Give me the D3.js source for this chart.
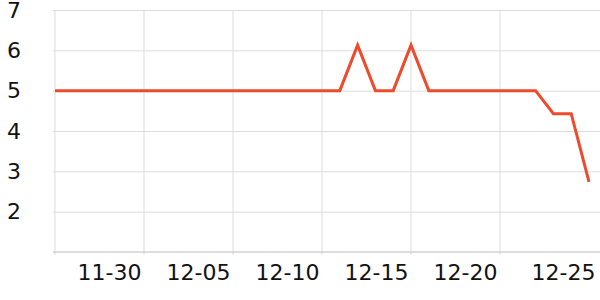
<!DOCTYPE html>
<html>
<head>
<meta charset="utf-8">
<script src="https://cdn.jsdelivr.net/npm/d3@7"></script>
<style>
  body { margin: 0; background: #fff; }
  text { font-family: "DejaVu Sans", sans-serif; }
</style>
</head>
<body>
<svg id="chart" width="600" height="300"></svg>
<script>
// daily categories shown on the x axis
var dates = ["11-25", "11-26", "11-27", "11-28", "11-29", "11-30", "12-01", "12-02",
  "12-03", "12-04", "12-05", "12-06", "12-07", "12-08", "12-09", "12-10", "12-11",
  "12-12", "12-13", "12-14", "12-15", "12-16", "12-17", "12-18", "12-19", "12-20",
  "12-21", "12-22", "12-23", "12-24", "12-25"];
var values = [5, 5, 5, 5, 5, 5, 5, 5, 5, 5, 5, 5, 5, 5, 5, 5, 5,
  6.13, 5, 5, 6.13, 5, 5, 5, 5, 5, 5, 5, 4.43, 4.43, 2.74];
var xTicks = ["11-30", "12-05", "12-10", "12-15", "12-20", "12-25"];
var yTicks = [2, 3, 4, 5, 6, 7];

(function() {
  var svg = d3.select("#chart");
  var mLeft = 55, mRight = 600, mTop = 10, mBottom = 252;

  var x = d3.scalePoint().domain(dates).range([mLeft, 589]);
  var y = d3.scaleLinear().domain([1, 7]).range([mBottom, mTop]);

  // horizontal grid + y labels
  var yAxis = d3.axisLeft(y)
    .tickValues(yTicks)
    .tickFormat(d3.format("d"))
    .tickSize(-(mRight - mLeft + 2))
    .tickPadding(32);

  svg.append("g")
    .attr("transform", "translate(" + (mLeft - 2) + ",0)")
    .call(yAxis)
    .call(function(g) {
      g.select(".domain").remove();
      g.selectAll(".tick line").attr("stroke", "#dddddd");
      g.selectAll(".tick text")
        .attr("font-size", 22)
        .attr("fill", "#111");
    });

  // vertical grid lines (last tick sits on the plot edge, no line there)
  svg.append("g")
    .selectAll("line")
    .data(xTicks.slice(0, -1))
    .enter().append("line")
    .attr("x1", function(d) { return x(d); })
    .attr("x2", function(d) { return x(d); })
    .attr("y1", mTop)
    .attr("y2", mBottom + 3)
    .attr("stroke", "#dddddd");

  // left edge line
  svg.append("line")
    .attr("x1", mLeft).attr("x2", mLeft)
    .attr("y1", mTop).attr("y2", mBottom + 3)
    .attr("stroke", "#dddddd");

  // x labels, sitting a bit left of their grid line
  var xAxis = d3.axisBottom(x)
    .tickValues(xTicks)
    .tickSize(0)
    .tickPadding(12);

  svg.append("g")
    .attr("transform", "translate(0," + mBottom + ")")
    .call(xAxis)
    .call(function(g) {
      g.select(".domain").remove();
      g.selectAll(".tick text")
        .attr("font-size", 22)
        .attr("fill", "#111")
        .attr("dx", function(d, i) { return i == xTicks.length - 1 ? -26 : -35; });
    });

  // bottom axis line
  svg.append("line")
    .attr("x1", mLeft - 2).attr("x2", mRight)
    .attr("y1", mBottom).attr("y2", mBottom)
    .attr("stroke", "#bbbbbb");

  var line = d3.line()
    .x(function(d, i) { return x(dates[i]); })
    .y(function(d) { return y(d); });

  svg.append("path")
    .datum(values)
    .attr("d", line)
    .attr("fill", "none")
    .attr("stroke", "#ee4a2c")
    .attr("stroke-width", 3);
})();
</script>
</body>
</html>
